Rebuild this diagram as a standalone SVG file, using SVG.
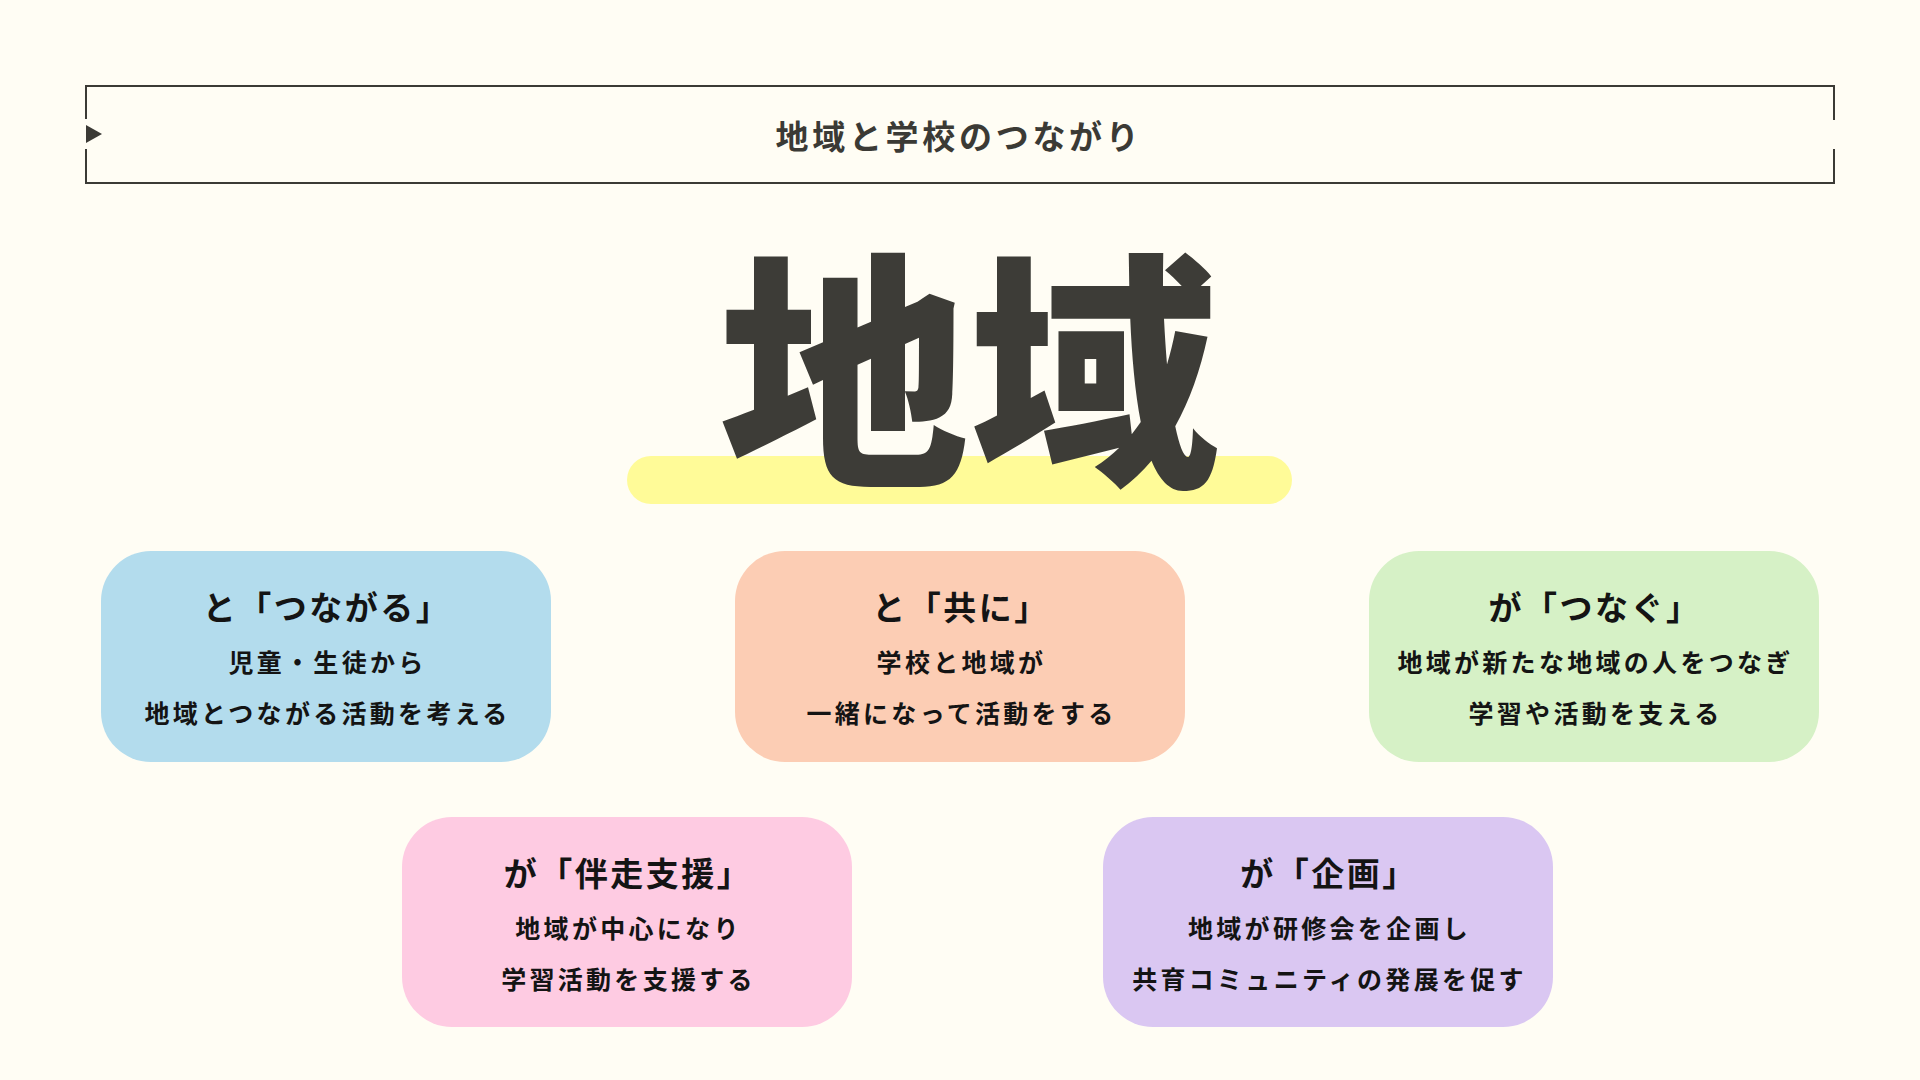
<svg xmlns="http://www.w3.org/2000/svg" width="1920" height="1080" viewBox="0 0 1920 1080">
  <defs>
    <style>
      .jp { font-family: "Noto Sans CJK JP", "Noto Sans", sans-serif; }
      .card-title { font-size: 33px; font-weight: 700; fill: #141414; letter-spacing: 2.5px; text-anchor: middle; }
      .card-body { font-size: 25px; font-weight: 700; fill: #141414; letter-spacing: 3.3px; text-anchor: middle; }
      .card { stroke: none; }
    </style>
  </defs>
  <rect x="0" y="0" width="1920" height="1080" fill="#fffdf4"/>

  <g id="header">
    <path d="M86,119 V86 H1834 V120 M1834,149 V183 H86 V149" fill="none" stroke="#3b3a35" stroke-width="2"/>
    <polygon points="86,125 102,134 86,143" fill="#3b3a35"/>
    <text class="jp" x="959" y="149" font-size="33" font-weight="700" letter-spacing="3.7" text-anchor="middle" fill="#3b3a35">地域と学校のつながり</text>
  </g>

  <g id="main-title">
    <rect x="627" y="456" width="665" height="48" rx="24" fill="#fffb98"/>
    <text class="jp" x="969" y="467" font-size="250" font-weight="900" text-anchor="middle" fill="#3d3c37">地域</text>
  </g>

  <g id="card-tsunagaru">
    <rect class="card" x="101" y="551" width="450" height="211" rx="50" fill="#b3dced"/>
    <text class="jp card-title" x="327" y="620">と「つながる」</text>
    <text class="jp card-body" x="327.5" y="672">児童・生徒から</text>
    <text class="jp card-body" x="327.5" y="723">地域とつながる活動を考える</text>
  </g>

  <g id="card-tomoni">
    <rect class="card" x="735" y="551" width="450" height="211" rx="50" fill="#fccdb4"/>
    <text class="jp card-title" x="961" y="620">と「共に」</text>
    <text class="jp card-body" x="961.5" y="672">学校と地域が</text>
    <text class="jp card-body" x="961.5" y="723">一緒になって活動をする</text>
  </g>

  <g id="card-tsunagu">
    <rect class="card" x="1369" y="551" width="450" height="211" rx="50" fill="#d6f1c6"/>
    <text class="jp card-title" x="1595" y="620">が「つなぐ」</text>
    <text class="jp card-body" x="1595.5" y="672">地域が新たな地域の人をつなぎ</text>
    <text class="jp card-body" x="1595.5" y="723">学習や活動を支える</text>
  </g>

  <g id="card-bansou">
    <rect class="card" x="402" y="817" width="450" height="210" rx="50" fill="#fecbe2"/>
    <text class="jp card-title" x="628" y="886">が「伴走支援」</text>
    <text class="jp card-body" x="628.5" y="938">地域が中心になり</text>
    <text class="jp card-body" x="628.5" y="989">学習活動を支援する</text>
  </g>

  <g id="card-kikaku">
    <rect class="card" x="1103" y="817" width="450" height="210" rx="50" fill="#dac7f2"/>
    <text class="jp card-title" x="1329" y="886">が「企画」</text>
    <text class="jp card-body" x="1329.5" y="938">地域が研修会を企画し</text>
    <text class="jp card-body" x="1329.5" y="989">共育コミュニティの発展を促す</text>
  </g>

  <g id="connectors"></g>
</svg>
